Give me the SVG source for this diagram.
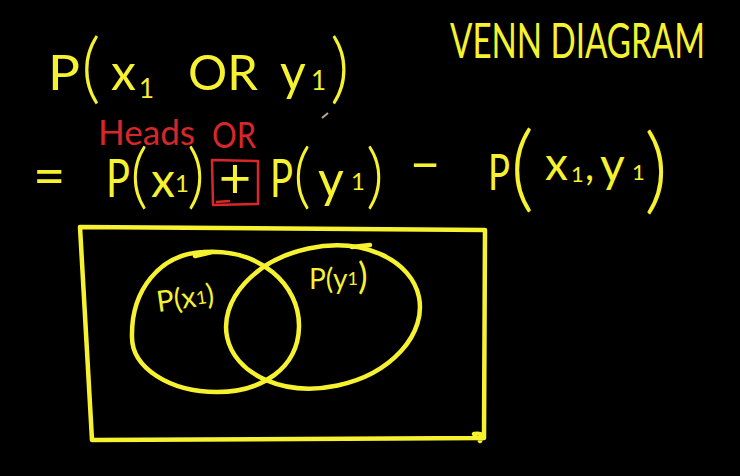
<svg xmlns="http://www.w3.org/2000/svg" width="740" height="476" viewBox="0 0 740 476">
<style>
text{font-family:Lato,"Liberation Sans",Arial,sans-serif}
.y{fill:#f6f230}
.p{fill:#f6f230;font-weight:300}
.r{fill:#d8262a}
.ln{fill:none;stroke:#f6f230;stroke-width:4.5;stroke-linecap:round;stroke-linejoin:round}
</style>
<rect width="740" height="476" fill="#000"/>
<g id="title">
<text class="y" x="450" y="58" font-size="48" textLength="255" lengthAdjust="spacingAndGlyphs">VENN DIAGRAM</text>
</g>
<g id="line1">
<text class="y" x="48" y="90" font-size="49" textLength="32" lengthAdjust="spacingAndGlyphs">P</text>
<text class="p" x="81" y="94" font-size="76">(</text>
<text class="y" x="111" y="90" font-size="50">x</text>
<text class="y" x="139" y="98" font-size="26">1</text>
<text class="y" x="188" y="90" font-size="49">OR</text>
<text class="y" x="280" y="90" font-size="50">y</text>
<text class="y" x="311" y="90" font-size="26">1</text>
<text class="p" x="330" y="94" font-size="76">)</text>
</g>
<g id="annotations">
<text class="r" x="98" y="145" font-size="34" textLength="97" lengthAdjust="spacingAndGlyphs">Heads</text>
<text class="r" x="212" y="148" font-size="36" textLength="44" lengthAdjust="spacingAndGlyphs">OR</text>
<path d="M212,160 L258,161 L258,204 L213,205 Z M216,202 L230,201" fill="none" stroke="#d8262a" stroke-width="2.5" stroke-linejoin="round"/>
</g>
<g id="line2">
<text class="y" x="33" y="195" font-size="56">=</text>
<text class="y" x="106" y="197" font-size="52" textLength="24" lengthAdjust="spacingAndGlyphs">P</text>
<text class="p" x="130" y="200" font-size="70">(</text>
<text class="y" x="151" y="197" font-size="48">x</text>
<text class="y" x="175" y="192" font-size="24">1</text>
<text class="p" x="187" y="200" font-size="70">)</text>
<text class="y" x="235" y="198" font-size="56" text-anchor="middle">+</text>
<text class="y" x="270" y="197" font-size="52" textLength="23" lengthAdjust="spacingAndGlyphs">P</text>
<text class="p" x="293" y="200" font-size="70">(</text>
<text class="y" x="318" y="197" font-size="50">y</text>
<text class="y" x="351" y="190" font-size="24">1</text>
<text class="p" x="366" y="200" font-size="70">)</text>
<text class="y" x="410" y="183" font-size="52">−</text>
<text class="y" x="488" y="190" font-size="50" textLength="22" lengthAdjust="spacingAndGlyphs">P</text>
<text class="p" x="510" y="200" font-size="94">(</text>
<text class="y" x="545" y="180" font-size="46">x</text>
<text class="y" x="571" y="182" font-size="22">1</text>
<text class="y" x="585" y="180" font-size="40">,</text>
<text class="y" x="600" y="182" font-size="48">y</text>
<text class="y" x="632" y="180" font-size="22">1</text>
<text class="p" x="644" y="202" font-size="94">)</text>
</g>
<g id="universe">
<path class="ln" d="M80,227 L485,230 L484,438 L92,440 Z M474,434 Q486,432 480,441"/>
</g>
<g id="set-x1">
<path class="ln" d="M203,252 C260,248 300,285 299,327 C298,368 262,392 217,392 C170,392 132,368 132,337 C131,290 160,254 203,252 Z M195,256 L212,252"/>
<text class="y" x="156" y="308" font-size="29" transform="rotate(-8 186 296)">P(x<tspan font-size="18" dy="-2">1</tspan><tspan dy="2">)</tspan></text>
</g>
<g id="set-y1">
<ellipse class="ln" cx="323" cy="317" rx="98" ry="70" transform="rotate(-12 323 317)"/>
<path class="ln" d="M352,247 L370,245"/>
<text class="y" x="309" y="289" font-size="28">P(y<tspan font-size="18" dy="-4">1</tspan><tspan dy="4" font-size="36">)</tspan></text>
</g>
<line x1="322" y1="118" x2="328" y2="113" stroke="#b8a88a" stroke-width="2"/>
</svg>
